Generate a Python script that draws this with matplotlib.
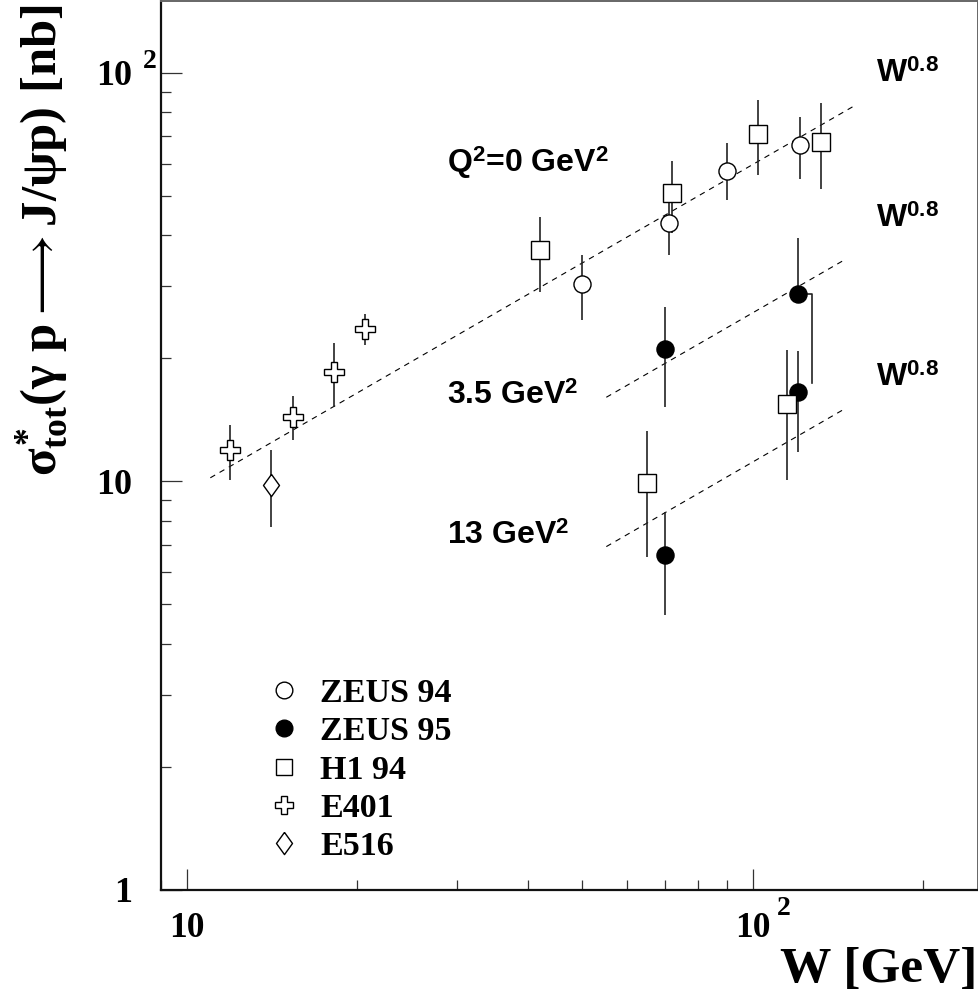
import matplotlib
matplotlib.use("Agg")
import matplotlib.pyplot as plt
from matplotlib.lines import Line2D
from matplotlib.ticker import LogLocator, NullFormatter
import numpy as np

plt.rcParams['mathtext.fontset'] = 'custom'
plt.rcParams['mathtext.rm'] = 'Liberation Serif:bold'
plt.rcParams['mathtext.it'] = 'Liberation Serif:bold'
plt.rcParams['mathtext.bf'] = 'Liberation Serif:bold'
plt.rcParams['mathtext.sf'] = 'Liberation Sans:bold'
plt.rcParams['mathtext.fallback'] = 'stix'

# ---------------- data ----------------
zeus94_w = [50, 71, 90, 121]
zeus94_s = [30.5, 42.8, 57.6, 66.6]
zeus94_lo = [24.8, 35.8, 48.9, 54.9]
zeus94_hi = [35.8, 50.0, 67.3, 78.2]

zeus95_w = [70, 70, 120, 120]
zeus95_s = [21.1, 6.59, 16.5, 28.7]
zeus95_lo = [15.2, 4.71, 11.8, 28.7]
zeus95_hi = [26.7, 8.40, 20.8, 39.4]
# offset lower error of the 3.5 GeV^2 point at W=120
zeus95_off_w = [120, 127, 127]
zeus95_off_s = [28.7, 28.7, 17.4]

h1_w = [42, 72, 102, 132, 65, 115]
h1_s = [36.9, 50.7, 70.8, 67.9, 9.89, 15.5]
h1_lo = [29.1, 40.6, 56.3, 51.9, 6.51, 10.1]
h1_hi = [44.3, 60.9, 85.9, 84.3, 13.3, 21.0]

e401_w = [11.9, 15.4, 18.2, 20.6]
e401_s = [11.9, 14.4, 18.5, 23.6]
e401_lo = [10.1, 12.6, 15.2, 21.6]
e401_hi = [13.7, 16.2, 21.8, 25.7]

e516_w = [14.1]
e516_s = [9.79]
e516_lo = [7.71]
e516_hi = [11.9]

# W^0.8 lines (end points)
fit0_w = [11.0, 151.0]
fit0_s = [10.2, 83.0]
fit35_w = [55.1, 146.0]
fit35_s = [16.06, 35.0]
fit13_w = [55.1, 146.0]
fit13_s = [6.92, 15.1]

legend_labels = ['ZEUS 94', 'ZEUS 95', 'H1 94', 'E401', 'E516']

# ---------------- figure ----------------
W, H = 979, 996
fig = plt.figure(figsize=(W / 100, H / 100), dpi=100)
ax = fig.add_axes([161 / W, 1 - 889.7 / H, (978 - 161) / W, (889.7 - 1) / H])
ax.set_xscale('log')
ax.set_yscale('log')
ax.set_xlim(9, 250)
ax.set_ylim(1, 150)

for s in ['left', 'bottom']:
    ax.spines[s].set_linewidth(1.6)
    ax.spines[s].set_color('#111111')
for s in ['right', 'top']:
    ax.spines[s].set_linewidth(1.4)
    ax.spines[s].set_color('#666666')

ax.xaxis.set_major_locator(LogLocator(base=10, numticks=10))
ax.yaxis.set_major_locator(LogLocator(base=10, numticks=10))
ax.xaxis.set_minor_locator(LogLocator(base=10, subs=np.arange(2, 10), numticks=20))
ax.yaxis.set_minor_locator(LogLocator(base=10, subs=np.arange(2, 10), numticks=20))
ax.xaxis.set_major_formatter(NullFormatter())
ax.yaxis.set_major_formatter(NullFormatter())
ax.xaxis.set_minor_formatter(NullFormatter())
ax.yaxis.set_minor_formatter(NullFormatter())
ax.tick_params(which='major', direction='in', length=15, width=0.9, color='#333333',
               top=False, right=False)
ax.tick_params(which='minor', direction='in', length=7.2, width=0.9, color='#333333',
               top=False, right=False)

# fit lines
dash = (0, (5.0, 4.6))
for fw, fs in [(fit0_w, fit0_s), (fit35_w, fit35_s), (fit13_w, fit13_s)]:
    ax.plot(fw, fs, color='black', lw=0.8, linestyle=dash, zorder=1)

ecol = '#222222'
elw = 1.2


def eb(w, s, lo, hi, **kw):
    s = np.array(s)
    yerr = [s - np.array(lo), np.array(hi) - s]
    ax.errorbar(w, s, yerr=yerr, linestyle='none', ecolor=ecol, elinewidth=elw,
                capsize=0, markeredgecolor='black', markeredgewidth=1.0, zorder=3, **kw)


ax.plot(zeus95_off_w, zeus95_off_s, color=ecol, lw=elw, zorder=2)

diamond = [(0, 1), (0.72, 0), (0, -1), (-0.72, 0), (0, 1)]
eb(zeus94_w, zeus94_s, zeus94_lo, zeus94_hi, marker='o', ms=12.3, mfc='white')
eb(zeus95_w, zeus95_s, zeus95_lo, zeus95_hi, marker='o', ms=12.3, mfc='black')
eb(h1_w, h1_s, h1_lo, h1_hi, marker='s', ms=12.3, mfc='white')
eb(e401_w, e401_s, e401_lo, e401_hi, marker='P', ms=14, mfc='white')
eb(e516_w, e516_s, e516_lo, e516_hi, marker=diamond, ms=16, mfc='white')

# legend
handles = [
    Line2D([], [], marker='o', ls='none', ms=12, mfc='white', mec='black', mew=1.0),
    Line2D([], [], marker='o', ls='none', ms=12, mfc='black', mec='black', mew=1.0),
    Line2D([], [], marker='s', ls='none', ms=12, mfc='white', mec='black', mew=1.0),
    Line2D([], [], marker='P', ls='none', ms=13, mfc='white', mec='black', mew=1.0),
    Line2D([], [], marker=diamond, ls='none', ms=16, mfc='white', mec='black', mew=1.0),
]
leg = ax.legend(handles, legend_labels, loc='upper left',
                bbox_to_anchor=((269 - 161) / 817, 1 - (678 - 1) / 888.7),
                frameon=False, borderpad=0, borderaxespad=0,
                handlelength=0.9, handletextpad=0.6, labelspacing=0.215,
                prop={'family': 'Liberation Serif', 'weight': 'bold', 'size': 24.5})

# annotations
sans = dict(family='Liberation Sans', weight='bold', fontsize=23, va='baseline', ha='left')
ax.text(28.8, 57.1, r'Q$^{\mathsf{2}}$=0 GeV$^{\mathsf{2}}$', **sans)
ax.text(28.8, 15.5, r'3.5 GeV$^{\mathsf{2}}$', **sans)
ax.text(28.8, 7.01, r'13 GeV$^{\mathsf{2}}$', **sans)
for yb in [95.2, 42.0, 17.1]:
    ax.text(165.1, yb, r'W$^{\mathsf{0.8}}$', **sans)

# tick labels (ROOT style)
serif = dict(family='Liberation Serif', weight='bold')
xt = ax.get_xaxis_transform()
yt = ax.get_yaxis_transform()
ax.text(10, -(937 - 889.7) / 888.7, '10', transform=xt, ha='center', va='baseline',
        fontsize=25.5, **serif)
ax.text(100, -(937 - 889.7) / 888.7, '10', transform=xt, ha='center', va='baseline',
        fontsize=25.5, **serif)
ax.text(110.1, -(915 - 889.7) / 888.7, '2', transform=xt, ha='left', va='baseline',
        fontsize=20, **serif)
for yv in [1, 10, 100]:
    ax.text(-(161 - 132) / 817, yv, str(yv) if yv < 100 else '10', transform=yt,
            ha='right', va='center_baseline', fontsize=26, **serif)
ax.text(-(161 - 143) / 817, 102.9, '2', transform=yt, ha='left', va='baseline',
        fontsize=20, **serif)

# axis titles
fig.text(977 / W, 1 - 982 / H, 'W [GeV]', ha='right', va='baseline', fontsize=37, **serif)
fig.text(42 / W, 1 - 4 / H,
         r'$\sigma_{tot}^{*}(\gamma\ p \longrightarrow J/\psi p)\ [nb]$',
         rotation=90, ha='center', va='top', fontsize=36.5)

fig.savefig('out.png', dpi=100)
